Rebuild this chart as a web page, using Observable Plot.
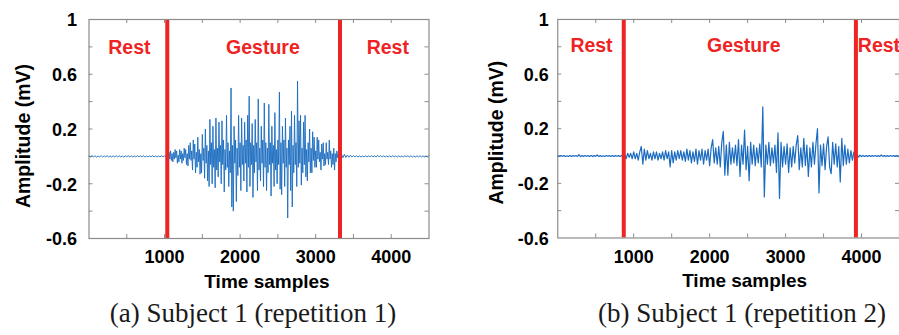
<!DOCTYPE html>
<html>
<head>
<meta charset="utf-8">
<script src="https://cdn.jsdelivr.net/npm/d3@7"></script>
<script src="https://cdn.jsdelivr.net/npm/@observablehq/plot@0.6"></script>
<style>
  html, body { margin: 0; padding: 0; background: #fff; }
  #wrap { position: relative; width: 899px; height: 335px; overflow: hidden; background: #fff; }
  .panel { position: absolute; top: 0; }
  .cap { position: absolute; top: 300px; width: 450px; text-align: center;
         font-family: "Liberation Serif", "Times New Roman", serif; font-size: 27px; line-height: 27px; color: #1a1a1a; white-space: nowrap; }
</style>
</head>
<body>
<div id="wrap">
  <div id="pa" class="panel" style="left:0px"></div>
  <div id="pb" class="panel" style="left:450px"></div>
  <div class="cap" style="left:28px">(a) Subject 1 (repetition 1)</div>
  <div class="cap" style="left:517px">(b) Subject 1 (repetition 2)</div>
</div>
<script>
// ---------- data ----------
const xDomain = [0, 4500];
const yDomain = [-0.6, 1];
const xTickLabels = [1000, 2000, 3000, 4000];
const yTickLabels = [1, 0.6, 0.2, -0.2, -0.6];
const xMinorTicks = [500, 1000, 1500, 2000, 2500, 3000, 3500, 4000];
const yMinorTicks = [-0.4, -0.2, 0, 0.2, 0.4, 0.6, 0.8];

// Subject 1, repetition 1
// rest: one value every 20 samples from sample 0
const restA1 = [
  0.004,-0.004,0.005,-0.003,0.004,-0.005,0.003,-0.004,0.005,-0.004,
  0.004,-0.003,0.005,-0.004,0.003,-0.005,0.004,-0.004,0.005,-0.003,
  0.004,-0.004,0.003,-0.005,0.004,-0.003,0.005,-0.004,0.004,-0.005,
  0.003,-0.004,0.005,-0.003,0.004,-0.004,0.005,-0.005,0.003,-0.004,
  0.004,-0.003,0.005,-0.004,0.004,-0.005,0.003,-0.004,0.005,-0.003,
  0.004,-0.004];
// gesture: one value every 10 samples from sample 1040
const gestureA = [
  0.02,-0.03,0.03,-0.02,0.04,-0.03,0.02,-0.04,0.03,-0.02,
  0.05,-0.01,0.04,-0.05,0.01,-0.04,0.05,-0.02,0.04,-0.05,
  0.02,-0.03,0.06,-0.01,0.05,-0.06,0.02,-0.07,0.08,-0.02,
  0.1,-0.03,0.04,-0.1,0.12,-0.02,0.09,-0.12,0.03,-0.08,
  0.14,-0.04,0.05,-0.13,0.02,-0.12,0.16,-0.03,0.06,-0.16,
  0.2,-0.05,0.08,-0.18,0.04,-0.22,0.27,-0.06,0.1,-0.2,
  0.22,-0.08,0.05,-0.23,0.28,-0.1,0.06,-0.15,0.25,-0.04,
  0.08,-0.2,0.26,-0.06,0.12,-0.26,0.05,-0.1,0.3,-0.08,
  0.1,-0.22,0.04,-0.12,0.5,-0.37,0.08,-0.4,0.22,-0.05,
  0.12,-0.33,0.06,-0.14,0.3,-0.08,0.1,-0.25,0.28,-0.06,
  0.08,-0.18,0.25,-0.05,0.12,-0.26,0.3,-0.08,0.44,-0.22,
  0.1,-0.06,0.24,-0.3,0.08,-0.12,0.27,-0.04,0.1,-0.25,
  0.42,-0.1,0.06,-0.18,0.22,-0.05,0.12,-0.22,0.39,-0.08,
  0.1,-0.25,0.06,-0.12,0.38,-0.06,0.1,-0.29,0.22,-0.05,
  0.08,-0.22,0.32,-0.1,0.05,-0.2,0.12,-0.06,0.47,-0.24,
  0.1,-0.28,0.22,-0.05,0.12,-0.22,0.28,-0.08,0.06,-0.45,
  0.12,-0.06,0.22,-0.25,0.33,-0.37,0.08,-0.12,0.3,-0.06,
  0.1,-0.22,0.55,-0.08,0.26,-0.05,0.3,-0.21,0.06,-0.12,
  0.25,-0.06,0.3,-0.15,0.05,-0.18,0.1,-0.04,0.2,-0.12,
  0.06,-0.12,0.18,-0.03,0.14,-0.08,0.04,-0.08,0.14,-0.02,
  0.12,-0.04,0.03,-0.1,0.09,-0.02,0.1,-0.07,0.02,-0.06,
  0.1,-0.02,0.03,-0.06,0.12,-0.02,0.04,-0.08,0.02,-0.06,
  0.06,-0.1,0.02,-0.04,0.04,-0.01,0.03,-0.02,0.02];
// rest: one value every 20 samples from sample 3340
const restA2 = [
  0.02,-0.01,0.015,-0.008,0.01,-0.006,0.008,-0.005,0.006,-0.005,
  0.005,-0.004,0.004,-0.005,0.003,-0.004,0.005,-0.004,0.004,-0.003,
  0.005,-0.004,0.004,-0.005,0.008,-0.004,0.006,-0.005,0.004,-0.004,
  0.003,-0.005,0.004,-0.004,0.005,-0.003,0.004,-0.005,0.004,-0.004,
  0.003,-0.004,0.005,-0.003,0.004,-0.004,0.005,-0.005,0.003,-0.004,
  0.004,-0.003,0.005,-0.004,0.004,-0.005,0.003,-0.004,0.004];
const segmentsA = [
  {start: 0, step: 20, values: restA1},
  {start: 1040, step: 10, values: gestureA},
  {start: 3340, step: 20, values: restA2}];
const boundsA = [1036, 3322];
const labelsA = [
  {x: 534, y: 0.79, text: "Rest"},
  {x: 2302, y: 0.79, text: "Gesture"},
  {x: 3955, y: 0.79, text: "Rest"}];

// Subject 1, repetition 2 (one value every 20 samples)
const restB1 = [
  0.003,-0.003,0.004,-0.002,0.003,-0.004,0.002,-0.003,0.004,-0.003,
  0.003,-0.002,0.004,-0.003,0.01,-0.004,0.003,-0.003,0.004,-0.002,
  0.003,-0.003,0.004,-0.004,0.003,-0.002,0.008,-0.003,0.003,-0.004,
  0.002,-0.003,0.004,-0.002,0.003,-0.003,0.004,-0.004,0.003,-0.002,
  0.003,-0.003,0.004,-0.003];
const gestureB = [
  0.01,-0.02,0.02,-0.01,0.02,-0.02,0.03,-0.02,0.02,-0.03,0.03,
  0.07,-0.06,0.05,-0.03,0.04,-0.02,
  0.02,-0.03,0.03,-0.02,0.03,-0.03,0.02,-0.02,0.03,-0.03,0.04,-0.02,0.03,
  -0.08,0.04,-0.05,0.03,-0.03,0.04,-0.02,
  0.04,-0.03,0.03,-0.04,0.05,-0.03,0.04,-0.05,0.03,-0.04,0.05,-0.06,0.04,-0.03,0.05,-0.06,0.04,-0.03,0.05,
  -0.07,0.06,0.12,-0.05,0.06,-0.06,0.07,-0.08,0.1,0.18,-0.14,
  0.08,-0.14,0.1,-0.06,0.06,-0.05,0.08,-0.07,0.12,-0.15,0.08,-0.06,0.19,
  -0.1,0.07,-0.18,0.1,-0.06,0.08,-0.07,0.06,-0.05,0.09,-0.08,
  0.36,-0.3,0.08,-0.06,0.1,-0.07,0.06,-0.05,0.08,-0.12,0.17,-0.31,
  0.1,-0.08,0.07,-0.06,0.09,-0.12,0.06,-0.08,0.07,-0.05,0.08,
  0.15,-0.1,0.06,-0.08,0.13,-0.07,0.08,-0.15,0.06,-0.08,0.1,-0.06,0.09,
  0.2,-0.27,0.08,-0.07,0.09,-0.1,0.07,0.14,-0.08,-0.13,0.1,-0.06,0.09,
  -0.08,0.07,-0.19,0.13,-0.07,0.08,-0.06,0.05,-0.05,0.04,-0.03,0.03,-0.02];
const restB2 = [
  0.01,-0.008,0.006,-0.004,0.004,-0.003,0.003,-0.004,0.004,-0.003,
  0.003,-0.002,0.004,-0.003,0.003,-0.004,0.008,-0.003,0.003,-0.004,
  0.003,-0.003,0.004,-0.002,0.003,-0.003,0.004,-0.003,0.003];
const segmentsB = [
  {start: 0, step: 20, values: restB1},
  {start: 880, step: 20, values: gestureB},
  {start: 3940, step: 20, values: restB2}];
const boundsB = [869, 3926];
const labelsB = [
  {x: 444, y: 0.805, text: "Rest"},
  {x: 2449, y: 0.805, text: "Gesture"},
  {x: 4229, y: 0.805, text: "Rest"}];

// ---------- drawing ----------
const BLUE = "#1b6cc0", RED = "#ee2323", GRAY = "#8c8c8c";
const H = 295, MT = 19, MB = 57;

function toSeries(segments) {
  return segments.flatMap(s => s.values.map((v, i) => ({t: s.start + i * s.step, v})));
}

function panel(segments, bounds, labels, o) {
  const series = toSeries(segments);
  const plotH = H - MT - MB;
  const plotW = o.width - o.ml - o.mr;
  return Plot.plot({
    width: o.width, height: H,
    marginTop: MT, marginBottom: MB, marginLeft: o.ml, marginRight: o.mr,
    x: {domain: xDomain},
    y: {domain: yDomain},
    style: {fontFamily: "'Liberation Sans', Arial, sans-serif", fontWeight: "bold", color: "#000", background: "transparent", overflow: "visible"},
    marks: [
      Plot.tickX(xMinorTicks, {x: d => d, insetTop: plotH - 4, stroke: GRAY}),
      Plot.tickX(xMinorTicks, {x: d => d, insetBottom: plotH - 4, stroke: GRAY}),
      Plot.tickY(yMinorTicks, {y: d => d, insetRight: plotW - 4, stroke: GRAY}),
      Plot.tickY(yMinorTicks, {y: d => d, insetLeft: plotW - 4, stroke: GRAY}),
      Plot.line(series, {x: "t", y: "v", stroke: BLUE, strokeWidth: o.sw}),
      Plot.ruleX(bounds, {x: d => d, stroke: RED, strokeWidth: 4}),
      Plot.frame({stroke: GRAY, strokeWidth: 1.2}),
      Plot.text(labels, {x: "x", y: "y", text: "text", textAnchor: "middle", lineAnchor: "middle", fill: RED, fontSize: 19.5, fontWeight: "bold"}),
      Plot.axisX(xTickLabels, {tickSize: 0, tickPadding: 12, fontSize: 18, label: null, tickFormat: d => String(d)}),
      Plot.axisY(yTickLabels, {tickSize: 0, tickPadding: o.ypad, fontSize: 18, label: null, tickFormat: d => String(d), dy: 1}),
      Plot.text(["Time samples"], {text: d => d, frameAnchor: "bottom", textAnchor: "middle", lineAnchor: "middle", dx: o.tdx, dy: 43, fontSize: 19}),
      Plot.text(["Amplitude (mV)"], {text: d => d, frameAnchor: "left", textAnchor: "middle", lineAnchor: "middle", rotate: -90, dx: o.adx, dy: o.ady, fontSize: 19.5})
    ]
  });
}

document.getElementById("pa").append(
  panel(segmentsA, boundsA, labelsA,
        {width: 450, ml: 88.5, mr: 21.5, ypad: 12, tdx: 8, adx: -65.5, ady: 7, sw: 0.9}));
document.getElementById("pb").append(
  panel(segmentsB, boundsB, labelsB,
        {width: 450, ml: 107.5, mr: 0, ypad: 9, tdx: 16, adx: -61, ady: 4, sw: 1.2}));
</script>
</body>
</html>
